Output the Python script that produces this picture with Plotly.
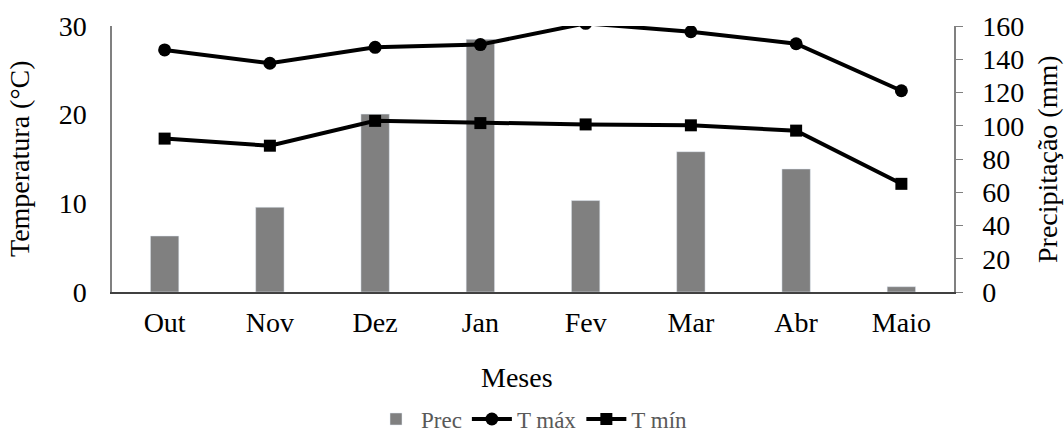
import plotly.graph_objects as go

meses = ["Out", "Nov", "Dez", "Jan", "Fev", "Mar", "Abr", "Maio"]
prec = [33.7, 51, 107, 152, 55, 84.4, 74, 3.2]
t_max = [27.3, 25.8, 27.6, 27.9, 30.3, 29.35, 28.0, 22.7]
t_min = [17.3, 16.5, 19.3, 19.05, 18.9, 18.8, 18.2, 12.2]

FONT = "Liberation Serif"
FS = 28
L, R, T, B = 112, 110, 26, 140
W, H = 1064, 432
PW, PH = W - L - R, H - T - B

def px_x(x):
    return (x - L) / PW

def px_y(y):
    return (H - B - y) / PH

fig = go.Figure()
fig.add_trace(go.Bar(x=meses, y=prec, name="Prec", marker_color="#808080",
                     width=0.27, yaxis="y"))
fig.add_trace(go.Scatter(x=meses, y=t_max, name="T máx", mode="lines+markers",
                         line=dict(color="black", width=4),
                         marker=dict(symbol="circle", size=13, color="black"),
                         yaxis="y2"))
fig.add_trace(go.Scatter(x=meses, y=t_min, name="T mín", mode="lines+markers",
                         line=dict(color="black", width=4),
                         marker=dict(symbol="square", size=12, color="black"),
                         yaxis="y2"))

fig.update_layout(
    width=W, height=H,
    margin=dict(l=L, r=R, t=T, b=B),
    plot_bgcolor="white", paper_bgcolor="white",
    font=dict(family=FONT, size=FS, color="black"),
    showlegend=True,
    xaxis=dict(showline=True, linecolor="#404040", linewidth=1.5,
               ticks="", tickfont=dict(size=FS), ticklabelstandoff=5,
               automargin=False),
    yaxis=dict(side="right", range=[0, 160], dtick=20, showgrid=False,
               showline=True, linecolor="#808080", linewidth=1.5,
               ticks="outside", ticklen=7, tickcolor="#808080",
               tickfont=dict(size=FS), zeroline=False, ticklabelstandoff=14,
               automargin=False),
    yaxis2=dict(side="left", overlaying="y", range=[0, 30], dtick=10,
                showgrid=False, showline=True, linecolor="#808080", linewidth=1.5,
                ticks="", tickfont=dict(size=FS), zeroline=False, ticklabelstandoff=18,
                automargin=False),
    legend=dict(orientation="h", x=0.5, xanchor="center", xref="container",
                y=0.03, yanchor="middle", yref="container",
                font=dict(size=23, color="#595959"), traceorder="normal",
                itemwidth=40),
    annotations=[
        dict(text="Temperatura (°C)", x=px_x(19), y=0.5, xref="paper", yref="paper",
             textangle=-90, showarrow=False, font=dict(size=FS),
             xanchor="center", yanchor="middle"),
        dict(text="Precipitação (mm)", x=px_x(1047), y=0.5, xref="paper", yref="paper",
             textangle=-90, showarrow=False, font=dict(size=FS),
             xanchor="center", yanchor="middle"),
        dict(text="Meses", x=px_x(517), y=px_y(377), xref="paper", yref="paper",
             showarrow=False, font=dict(size=FS),
             xanchor="center", yanchor="middle"),
    ],
)

fig.write_html("out.html", config={"displayModeBar": False},
               post_script="document.body.style.margin='0';document.body.style.padding='0';")
